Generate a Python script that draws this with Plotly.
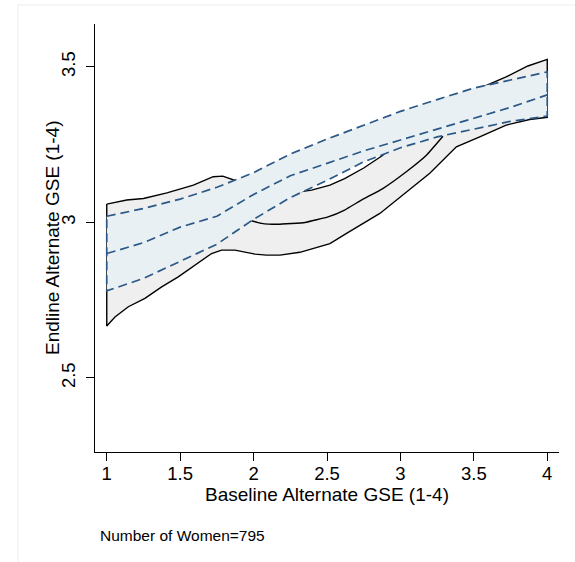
import plotly.graph_objects as go

# ---- data ----
# light-blue band (dashed): lower / fit / upper
blue_x = [1.0, 1.25, 1.5, 1.75, 2.0, 2.25, 2.5, 2.75, 3.0, 3.25, 3.5, 3.75, 4.0]
blue_lo = [2.78, 2.82, 2.875, 2.93, 3.01, 3.08, 3.135, 3.195, 3.24, 3.275, 3.30, 3.325, 3.342]
blue_fit = [2.90, 2.935, 2.985, 3.02, 3.09, 3.15, 3.19, 3.23, 3.265, 3.30, 3.335, 3.37, 3.41]
blue_hi = [3.02, 3.045, 3.075, 3.113, 3.16, 3.22, 3.268, 3.313, 3.357, 3.395, 3.432, 3.458, 3.484]

# grey band (black outline): upper and lower bounds
grey_up_x = [1.0, 1.136, 1.25, 1.41, 1.59, 1.725, 1.79, 1.88, 2.0, 2.15, 2.303, 2.395,
             2.52, 2.62, 2.75, 2.88, 3.0, 3.25, 3.5, 3.562, 3.72, 3.868, 4.0]
grey_up = [3.059, 3.072, 3.077, 3.095, 3.12, 3.147, 3.149, 3.134, 3.12, 3.10, 3.098, 3.104,
           3.12, 3.141, 3.175, 3.216, 3.28, 3.34, 3.42, 3.436, 3.468, 3.503, 3.524]
grey_lo_x = [1.0, 1.056, 1.147, 1.26, 1.374, 1.487, 1.6, 1.714, 1.782, 1.873, 2.01, 2.088,
             2.18, 2.315, 2.52, 2.633, 2.86, 3.086, 3.2, 3.381, 3.54, 3.72, 3.88, 4.0]
grey_lo = [2.667, 2.696, 2.729, 2.756, 2.793, 2.825, 2.863, 2.90, 2.911, 2.911, 2.898, 2.895,
           2.895, 2.904, 2.932, 2.965, 3.029, 3.114, 3.158, 3.243, 3.275, 3.313, 3.331, 3.338]
# grey fit line (visible part)
grey_fit_x = [1.975, 2.054, 2.167, 2.35, 2.507, 2.62, 2.735, 2.88, 3.04, 3.177, 3.29]
grey_fit = [3.007, 2.997, 2.994, 3.0, 3.018, 3.04, 3.072, 3.109, 3.163, 3.216, 3.277]

x_ticks = [1, 1.5, 2, 2.5, 3, 3.5, 4]
x_tick_text = ["1", "1.5", "2", "2.5", "3", "3.5", "4"]
y_ticks = [2.5, 3, 3.5]
y_tick_text = ["2.5", "3", "3.5"]

FONT = "Liberation Sans, Arial, Helvetica, sans-serif"
BLUE_LINE = "#2b5886"
BLUE_FILL = "#e8f0f3"
GREY_FILL = "#efefef"

fig = go.Figure()

# grey polygon
gx = grey_up_x + grey_lo_x[::-1] + [grey_up_x[0]]
gy = grey_up + grey_lo[::-1] + [grey_up[0]]
fig.add_trace(go.Scatter(x=gx, y=gy, mode="lines", fill="toself", fillcolor=GREY_FILL,
                         line=dict(color="black", width=1.4),
                         hoverinfo="skip", showlegend=False))
fig.add_trace(go.Scatter(x=grey_fit_x, y=grey_fit, mode="lines",
                         line=dict(color="black", width=1.4, shape="spline", smoothing=0.3),
                         hoverinfo="skip", showlegend=False))

# blue polygon
bx = blue_x + blue_x[::-1] + [blue_x[0]]
by = blue_hi + blue_lo[::-1] + [blue_hi[0]]
fig.add_trace(go.Scatter(x=bx, y=by, mode="lines", fill="toself", fillcolor=BLUE_FILL,
                         line=dict(color=BLUE_LINE, width=1.7, dash="9px,5px"),
                         hoverinfo="skip", showlegend=False))
fig.add_trace(go.Scatter(x=blue_x, y=blue_fit, mode="lines",
                         line=dict(color=BLUE_LINE, width=1.7, dash="9px,5px"),
                         hoverinfo="skip", showlegend=False))

fig.update_layout(
    width=575, height=562,
    margin=dict(l=95, r=16, t=24, b=110),
    paper_bgcolor="white", plot_bgcolor="white",
    font=dict(family=FONT, size=18.5, color="black"),
    showlegend=False,
    xaxis=dict(range=[0.92, 4.08], tickvals=x_ticks, ticktext=x_tick_text,
               showline=True, linecolor="black", linewidth=1.3, mirror=False,
               ticks="outside", ticklen=8, tickwidth=1.3, tickcolor="black",
               showgrid=False, zeroline=False, tickfont=dict(size=18.5),
               ticklabelstandoff=-3,
               title=dict(text="Baseline Alternate GSE (1-4)", standoff=4,
                          font=dict(size=19))),
    yaxis=dict(range=[2.262, 3.638], tickvals=y_ticks, ticktext=y_tick_text,
               tickangle=-90, ticklabelstandoff=3,
               showline=True, linecolor="black", linewidth=1.3, mirror=False,
               ticks="outside", ticklen=8, tickwidth=1.3, tickcolor="black",
               showgrid=False, zeroline=False, tickfont=dict(size=18.5)),
)

fig.add_annotation(text="Endline Alternate GSE (1-4)", xref="paper", yref="paper",
                   x=(52 - 95) / 464, y=0.5, xanchor="center", yanchor="middle",
                   textangle=-90, showarrow=False,
                   font=dict(size=19, family=FONT, color="black"))

fig.add_annotation(text="Number of Women=795", xref="paper", yref="paper",
                   x=(98 - 95) / 464, y=(452 - 535) / 428, xanchor="left", yanchor="middle",
                   showarrow=False, font=dict(size=15.5, family=FONT, color="black"))

# faint outer frame (left and top edges)
fig.add_shape(type="line", xref="paper", yref="paper",
              x0=(18 - 95) / 464, x1=(577 - 95) / 464, y0=1 + (24 - 5) / 428, y1=1 + (24 - 5) / 428,
              line=dict(color="#e9eef1", width=1))
fig.add_shape(type="line", xref="paper", yref="paper",
              x0=(18 - 95) / 464, x1=(18 - 95) / 464, y0=1 + (24 - 5) / 428, y1=(452 - 565) / 428,
              line=dict(color="#e9eef1", width=1))

fig.write_html("out.html")
